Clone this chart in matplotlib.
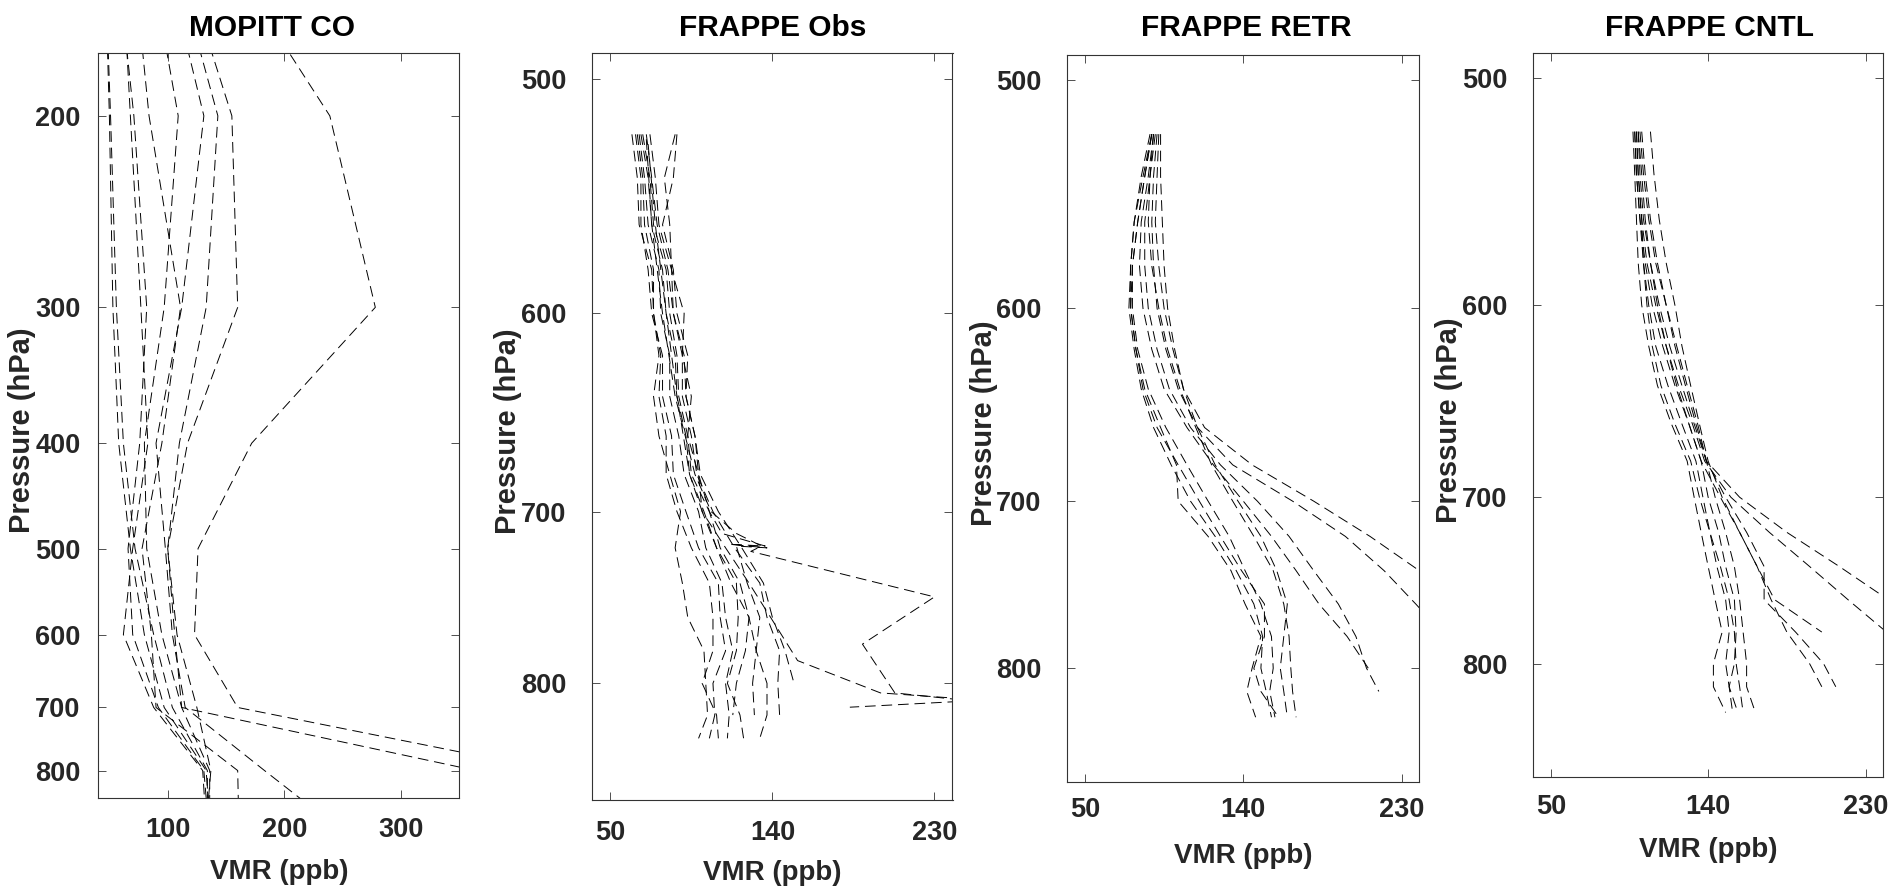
import numpy as np
import matplotlib
matplotlib.use("Agg")
import matplotlib.pyplot as plt
from matplotlib import font_manager
from matplotlib.font_manager import FontProperties
from matplotlib.ticker import NullLocator

nan = np.nan

# ---------------- data ----------------
TITLES = ["MOPITT CO", "FRAPPE Obs", "FRAPPE RETR", "FRAPPE CNTL"]
XLABEL = "VMR (ppb)"
YLABEL = "Pressure (hPa)"

# MOPITT retrieval levels (hPa) and profiles (ppb)
MOP_LEVELS = [100, 200, 300, 400, 500, 600, 700, 800, 900]
mop_a = [42, 50, 53, 58, 68, 80, 97, 133, 136]
mop_b = [41, 51, 56, 62, 72, 88, 104, 134, 134]
mop_c = [53, 68, 77, 83, 70, 62, 88, 130, 133]
mop_d = [41, 71, 82, 76, 66, 70, 92, 131, 135]
mop_e = [56, 84, 111, 95, 78, 86, 90, 160, 161]
mop_f = [59, 109, 97, 80, 82, 95, 112, 136, 136]
mop_g = [63, 131, 112, 90, 98, 104, 115, 183, 244]
mop_h = [66, 143, 133, 110, 100, 106, 112, 364, 420]
mop_i = [66, 155, 160, 117, 100, 108, 125, 137, 133]
mop_j = [58, 239, 278, 172, 126, 123, 160, 430, 500]
MOP_PROFILES = [mop_a, mop_b, mop_c, mop_d, mop_e, mop_f, mop_g, mop_h, mop_i, mop_j]

# FRAPPE aircraft observations
OBS_LEVELS = [522, 540, 560, 580, 600, 620, 640, 660, 680, 700, 720, 740, 760, 780, 800, 820, 835]
obs_1 = [62, 65, 66, 73, 74, 77, 74, 77, 83, 89, 86, 90, 93, 102, 103, 104, 99]
obs_2 = [64, 67, 67, 71, 73, 79, 79, 84, 85, 92, 99, 110, 111, 114, 107, 108, 105]
obs_3 = [66, 69, 71, 77, 78, 83, 83, 88, 91, 99, 103, 112, 114, 118, 114, 116, 115]
obs_4 = [67, 71, 73, 79, 81, 86, 87, 92, 94, 102, 109, 120, 121, 120, 115, 122, 124]
obs_6 = [70, 73, 76, 82, 85, 90, 90, 95, 98, 107, 119, 133, 137, 144, 143, 144, nan]
obs_7 = [72, 75, 77, 84, 85, 91, 92, 97, 100, 110, 123, 135, 140, 147, 152, nan, nan]
obs_8 = [86, 80, 83, 84, 91, 90, 95, 93, 99, 101, 109, 117, 127, 131, 137, 137, 133]
obs_9 = [87, 85, 79, 85, 87, 93, 92, 97, 99, 105, 111, 122, 127, 125, 120, 118, nan]
obs_10 = [65, 68, 69, 74, 74, 78, 77, 81, 81, 87, 95, 105, 107, 107, 101, 109, 110]
OBS_PROFILES = [obs_1, obs_2, obs_3, obs_4, obs_6, obs_7, obs_8, obs_9, obs_10]
# profiles with their own pressure sampling
obs_leg_p = [522, 540, 560, 580, 600, 620, 640, 660, 680, 700, 712, 719, 718, 720, 719, 740, 760, 780, 800, 820]
obs_leg_v = [68, 72, 74, 81, 83, 87, 88, 93, 95, 105, 112, 136, 116, 137, 120, 126, 133, 131, 129, 130]
obs_zig_p = [524, 560, 600, 640, 680, 700, 712, 719, 722, 748, 776, 806, 811, 815]
obs_zig_v = [70, 73, 79, 86, 97, 106, 120, 134, 128, 230, 190, 208, 250, 183]
obs_long_p = [526, 560, 600, 640, 680, 700, 720, 740, 760, 786, 806, 810]
obs_long_v = [71, 75, 81, 87, 94, 101, 114, 127, 139, 154, 200, 250]

# Model profiles sampled along the flights
MOD_LEVELS = [522, 540, 560, 580, 600, 620, 640, 660, 680, 700, 720, 740, 760, 780, 800, 815, 832]
retr_1 = [92, 91, 90, 92, 95, 100, 106, 118, 145, 180, 212, 240, 262, nan, nan, nan, nan]
retr_2 = [91, 89, 88, 89, 91, 96, 103, 114, 134, 168, 198, 220, 238, 255, nan, nan, nan]
retr_3 = [90, 87, 84, 84, 86, 91, 98, 110, 127, 148, 166, 180, 194, 204, 210, 217, nan]
retr_4 = [89, 86, 82, 81, 83, 88, 95, 108, 123, 140, 156, 170, 183, 199, 211, nan, nan]
retr_5 = [88, 83, 78, 76, 76, 79, 84, 93, 102, 103, 120, 133, 141, 150, 145, 142, 147]
retr_6 = [88, 84, 80, 77, 77, 80, 86, 96, 108, 120, 132, 141, 150, 156, 157, 155, 158]
retr_7 = [89, 87, 86, 88, 92, 97, 104, 113, 122, 134, 146, 157, 163, 166, 167, 168, 170]
retr_8 = [87, 82, 78, 76, 75, 78, 82, 89, 99, 110, 124, 136, 146, 151, 150, 153, 156]
retr_9 = [93, 93, 94, 95, 97, 101, 106, 114, 124, 137, 150, 159, 165, 163, 161, 163, 165]
retr_10 = [88, 84, 80, 77, 76, 79, 83, 91, 103, 115, 127, 139, 152, 152, 146, 150, 160]
RETR_PROFILES = [retr_1, retr_2, retr_3, retr_4, retr_5, retr_6, retr_7, retr_8, retr_9, retr_10]

cntl_1 = [100, 101, 103, 107, 112, 118, 125, 132, 139, 158, 185, 215, 243, 262, nan, nan, nan]
cntl_2 = [99, 100, 102, 105, 110, 116, 123, 131, 138, 153, 175, 198, 220, 242, 262, nan, nan]
cntl_3 = [101, 103, 106, 110, 116, 122, 128, 134, 139, 150, 162, 172, 172, 190, 206, 213, nan]
cntl_4 = [98, 99, 101, 104, 108, 114, 121, 129, 136, 147, 158, 168, 178, 205, nan, nan, nan]
cntl_5 = [97, 98, 99, 100, 102, 106, 111, 119, 128, 132, 136, 140, 144, 148, 143, 143, 150]
cntl_6 = [100, 102, 104, 107, 111, 116, 122, 129, 136, 140, 146, 150, 155, 156, 155, 152, 157]
cntl_7 = [102, 104, 107, 111, 116, 121, 127, 133, 139, 144, 150, 155, 158, 160, 162, 162, 167]
cntl_8 = [98, 99, 101, 103, 106, 110, 117, 125, 133, 137, 141, 145, 150, 152, 150, 152, 154]
cntl_9 = [107, 109, 112, 116, 121, 125, 130, 135, 140, 148, 158, 168, 176, 185, 198, 205, nan]
cntl_10 = [99, 100, 102, 103, 105, 108, 113, 121, 130, 135, 141, 147, 152, 155, 156, 158, 160]
CNTL_PROFILES = [cntl_1, cntl_2, cntl_3, cntl_4, cntl_5, cntl_6, cntl_7, cntl_8, cntl_9, cntl_10]

MOP_XTICKS = [100, 200, 300]
MOP_YTICKS = [200, 300, 400, 500, 600, 700, 800]
FR_XTICKS = [50, 140, 230]
FR_YTICKS = [500, 600, 700, 800]

# ---------------- style ----------------
W, H = 1890, 892
names = {f.name for f in font_manager.fontManager.ttflist}
if "Liberation Sans Narrow" in names:
    tick_fp = FontProperties(family="Liberation Sans Narrow", weight="bold", size=21)
    lab_fp = FontProperties(family="Liberation Sans Narrow", weight="bold", size=22)
    ylab_fp = lab_fp
else:
    tick_fp = FontProperties(family="Liberation Sans", weight="bold", size=19.5)
    lab_fp = FontProperties(family="Liberation Sans", weight="bold", size=20)
    ylab_fp = FontProperties(family="Liberation Sans", weight="bold", size=21)
title_fp = FontProperties(family="Liberation Sans", weight="bold", size=21.5)

TXT = "#262626"
EDGE = "#333333"
LS = (0, (11, 6))
LW = 0.7

fig = plt.figure(figsize=(W / 100, H / 100), dpi=100)

# pixel boxes: left, top, right, bottom
boxes = [(98.3, 52.8, 459.3, 797.5),
         (592.3, 53.0, 952.5, 800.0),
         (1067.3, 55.0, 1419.3, 781.7),
         (1533.3, 52.8, 1883.0, 776.7)]
title_x = [272, 772.5, 1246.7, 1709.3]
xlabel_y = [872, 873, 856, 850]
ylabel_x = [22, 507.5, 984, 1449]
xpad = [14, 14.5, 11, 12.5]
ypad = [12.7, 18.4, 18.4, 18.7]

axes = []
for k, (l, t, r, b) in enumerate(boxes):
    ax = fig.add_axes([l / W, 1 - b / H, (r - l) / W, (b - t) / H])
    axes.append(ax)

def draw(ax, profiles, levels):
    for v in profiles:
        ax.plot(v, levels, color="k", lw=LW, ls=LS)

draw(axes[0], MOP_PROFILES, MOP_LEVELS)
draw(axes[1], OBS_PROFILES, OBS_LEVELS)
axes[1].plot(obs_leg_v, obs_leg_p, color="k", lw=LW, ls=LS)
axes[1].plot(obs_zig_v, obs_zig_p, color="k", lw=LW, ls=LS)
axes[1].plot(obs_long_v, obs_long_p, color="k", lw=LW, ls=LS)
draw(axes[2], RETR_PROFILES, MOD_LEVELS)
draw(axes[3], CNTL_PROFILES, MOD_LEVELS)

for k, ax in enumerate(axes):
    ax.set_yscale("log")
    if k == 0:
        ax.set_xlim(40.5, 350)
        ax.set_ylim(847, 175)
        xt, yt = MOP_XTICKS, MOP_YTICKS
    else:
        ax.set_xlim(40, 240)
        ax.set_ylim(876, 490)
        xt, yt = FR_XTICKS, FR_YTICKS
    ax.set_xticks(xt)
    ax.set_xticklabels([str(v) for v in xt], fontproperties=tick_fp, color=TXT)
    ax.set_yticks(yt)
    ax.set_yticklabels([str(v) for v in yt], fontproperties=tick_fp, color=TXT)
    ax.yaxis.set_minor_locator(NullLocator())
    ax.xaxis.set_minor_locator(NullLocator())
    ax.tick_params(axis="both", which="both", direction="in", length=5.8, width=0.6,
                   color=EDGE, top=True, right=True)
    ax.tick_params(axis="x", pad=xpad[k])
    ax.tick_params(axis="y", pad=ypad[k])
    for s in ax.spines.values():
        s.set_color(EDGE)
        s.set_linewidth(0.8)
    l, t, r, b = boxes[k]
    ax.set_xlabel(XLABEL, fontproperties=lab_fp, color=TXT)
    ax.xaxis.label.set_va("center")
    ax.xaxis.set_label_coords((l + r) / 2 / W, 1 - xlabel_y[k] / H, transform=fig.transFigure)
    ax.set_ylabel(YLABEL, fontproperties=ylab_fp, color=TXT)
    ax.yaxis.label.set_va("center")
    ax.yaxis.set_label_coords(ylabel_x[k] / W, 1 - ((t + b) / 2 + 5) / H, transform=fig.transFigure)
    fig.text(title_x[k] / W, 1 - 36 / H, TITLES[k], ha="center", va="baseline",
             fontproperties=title_fp, color="k")

fig.savefig("out.png", dpi=100, facecolor="white")
